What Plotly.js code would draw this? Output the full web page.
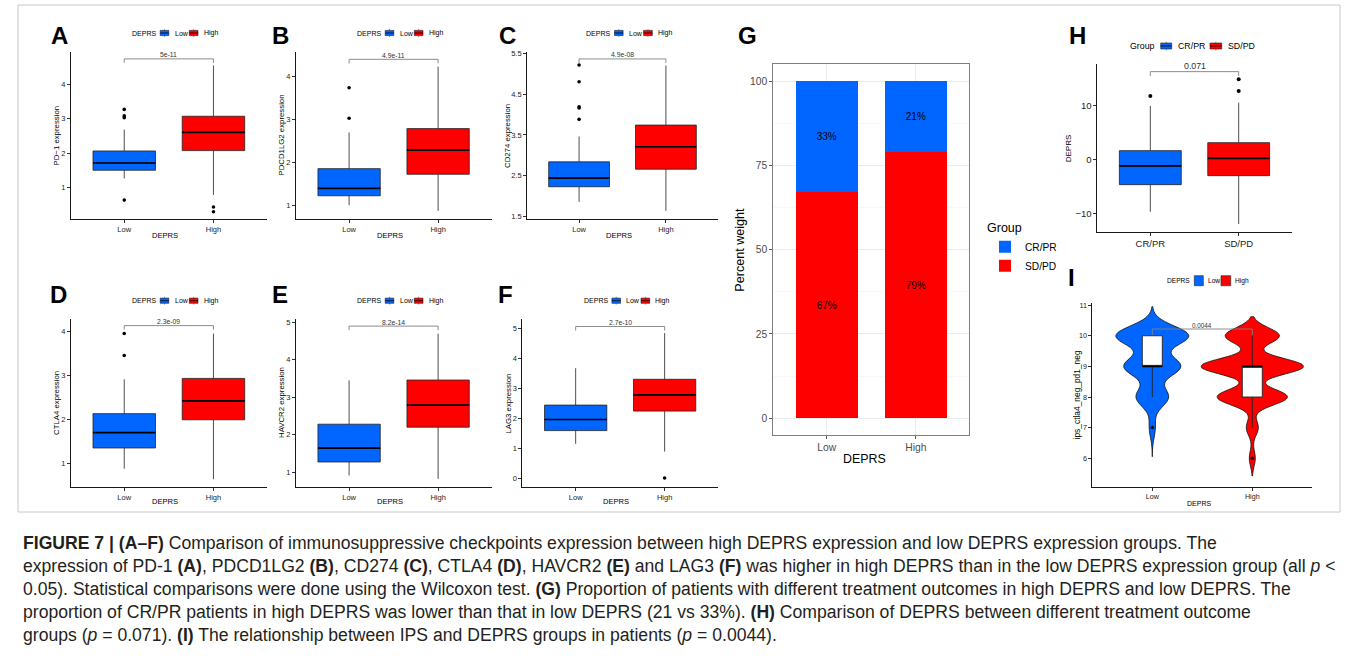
<!DOCTYPE html>
<html><head><meta charset="utf-8">
<script src="https://cdn.plot.ly/plotly-3.0.1.min.js"></script>
<style>html,body{margin:0;padding:0;background:#fff;}#chart{width:1355px;height:670px;}</style>
</head><body><div id="chart"></div>
<script>
// ================= DATA =================
const deprsGroups = ['Low', 'High'];
const outcomeGroups = ['CR/PR', 'SD/PD'];

// A: PD-1 (box statistics per group: Low, High)
const pd1Q1 = [1.50, 2.07];
const pd1Median = [1.71, 2.60];
const pd1Q3 = [2.06, 3.07];
const pd1Lower = [1.26, 0.78];
const pd1Upper = [2.68, 4.55];
const pd1OutLow = [3.27, 3.08, 3.03, 0.63];
const pd1OutHigh = [0.43, 0.29];

// B: PDCD1LG2
const pdcdQ1 = [1.22, 1.72];
const pdcdMedian = [1.39, 2.28];
const pdcdQ3 = [1.85, 2.78];
const pdcdLower = [1.00, 0.87];
const pdcdUpper = [2.69, 4.22];
const pdcdOutLow = [3.73, 3.02];
const pdcdOutHigh = [];

// C: CD274
const cd274Q1 = [2.23, 2.66];
const cd274Median = [2.44, 3.21];
const cd274Q3 = [2.84, 3.74];
const cd274Lower = [1.86, 1.64];
const cd274Upper = [3.46, 5.20];
const cd274OutLow = [3.88, 4.16, 4.19, 4.80, 5.21];
const cd274OutHigh = [];

// D: CTLA4
const ctla4Q1 = [1.35, 1.99];
const ctla4Median = [1.70, 2.42];
const ctla4Q3 = [2.13, 2.93];
const ctla4Lower = [0.88, 0.64];
const ctla4Upper = [2.91, 3.95];
const ctla4OutLow = [3.45, 3.95];
const ctla4OutHigh = [];

// E: HAVCR2
const havcr2Q1 = [1.27, 2.20];
const havcr2Median = [1.64, 2.79];
const havcr2Q3 = [2.28, 3.46];
const havcr2Lower = [0.91, 0.82];
const havcr2Upper = [3.45, 4.70];
const havcr2OutLow = [];
const havcr2OutHigh = [];

// F: LAG3
const lag3Q1 = [1.60, 2.25];
const lag3Median = [1.97, 2.79];
const lag3Q3 = [2.45, 3.31];
const lag3Lower = [1.16, 0.90];
const lag3Upper = [3.68, 4.85];
const lag3OutLow = [];
const lag3OutHigh = [0.02];

// G: percent of outcome groups per DEPRS group
const crprPct = [33, 21];
const sdpdPct = [67, 79];

// H: DEPRS by outcome group (CR/PR, SD/PD)
const hQ1 = [-4.60, -2.95];
const hMedian = [-1.16, 0.25];
const hQ3 = [1.66, 3.13];
const hLower = [-9.58, -11.84];
const hUpper = [9.90, 10.50];
const hOutCR = [11.70];
const hOutSD = [12.65, 14.80];

// I: IPS (ips_ctla4_neg_pd1_neg) score counts per level
const ipsLevels = [6, 7, 8, 9, 10];
const ipsCountLow = [0, 3, 16, 28, 36];
const ipsCountHigh = [3, 6, 35, 51, 27];

// p values and bracket heights (A..F, H, I)
const pLabels = ['5e-11', '4.9e-11', '4.9e-08', '2.3e-09', '8.2e-14', '2.7e-10', '0.071', '0.0044'];
const bracketY = [4.74, 4.39, 5.36, 4.13, 4.90, 5.07, 16.2, 10.22];

// ================= BUILD =================
const W = 1355, H = 670;
const px = v => v / W;
const py = v => 1 - v / H;
const BLUE = '#0066FF', RED = '#FF0000';
const FONT = '"Liberation Sans", Arial, sans-serif';
const traces = [], annotations = [], shapes = [];
const layout = {
  width: W, height: H, margin: {l: 0, r: 0, t: 0, b: 0},
  paper_bgcolor: '#fff', plot_bgcolor: 'rgba(0,0,0,0)',
  font: {family: FONT, color: '#000'},
  boxmode: 'overlay', violinmode: 'overlay', barmode: 'stack',
  showlegend: true
};
function keys(i) { return i === 1 ? ['x', 'y', 'xaxis', 'yaxis'] : ['x' + i, 'y' + i, 'xaxis' + i, 'yaxis' + i]; }

function pubrAxes(i, g, cats) {
  const [xa, ya, xk, yk] = keys(i);
  const common = {showline: true, linecolor: '#000', linewidth: 0.9, ticks: 'outside', ticklen: 3,
    tickcolor: '#000', tickwidth: 0.8, showgrid: false, zeroline: false, fixedrange: true, type: 'linear',
    tickfont: {size: g.tf, color: '#222', family: FONT}};
  layout[xk] = Object.assign({}, common, {domain: [px(g.xd[0]), px(g.xd[1])], range: [0.4, 2.6], anchor: ya,
    tickmode: 'array', tickvals: [1, 2], ticktext: cats});
  layout[yk] = Object.assign({}, common, {domain: [py(g.yd[1]), py(g.yd[0])], range: g.yr, anchor: xa,
    tick0: g.t0, dtick: g.dt});
}
function boxGroup(i, pos, q1, med, q3, lo, hi, color, width, lineW) {
  const [xa, ya] = keys(i);
  traces.push({type: 'box', x: [pos], q1: [q1], median: [med], q3: [q3], lowerfence: [lo], upperfence: [hi],
    width: width, fillcolor: color, line: {color: '#222', width: lineW || 0.8}, whiskerwidth: 0,
    boxpoints: false, xaxis: xa, yaxis: ya, showlegend: false, hoverinfo: 'skip'});
  traces.push({type: 'scatter', mode: 'lines', x: [pos - width / 2, pos + width / 2], y: [med, med],
    line: {color: '#000', width: 1.7}, xaxis: xa, yaxis: ya, showlegend: false, hoverinfo: 'skip'});
}
function outliers(i, pos, vals, size) {
  if (!vals.length) return;
  const [xa, ya] = keys(i);
  traces.push({type: 'scatter', mode: 'markers', x: vals.map(() => pos), y: vals,
    marker: {color: '#000', size: size || 3.6}, xaxis: xa, yaxis: ya, showlegend: false, hoverinfo: 'skip'});
}
function bracket(i, yb, tip, label, fs) {
  const [xa, ya] = keys(i);
  traces.push({type: 'scatter', mode: 'lines', x: [1, 1, 2, 2], y: [yb - tip, yb, yb, yb - tip],
    line: {color: '#808080', width: 0.9}, xaxis: xa, yaxis: ya, showlegend: false, hoverinfo: 'skip'});
  annotations.push({xref: xa, yref: ya, x: 1.5, y: yb, text: label, showarrow: false, yanchor: 'bottom',
    yshift: -1.5, font: {size: fs, color: '#333', family: FONT}});
}
function text(x, y, t, fs, opts) {
  annotations.push(Object.assign({xref: 'paper', yref: 'paper', x: px(x), y: py(y), text: t, showarrow: false,
    xanchor: 'center', yanchor: 'middle', font: {size: fs, color: '#000', family: FONT}}, opts || {}));
}
function rect(x0, y0, x1, y1, fill, lc, lw) {
  shapes.push({type: 'rect', xref: 'paper', yref: 'paper', x0: px(x0), x1: px(x1), y0: py(y1), y1: py(y0),
    fillcolor: fill, line: {color: lc, width: lw}, layer: 'above'});
}
function seg(x0, y0, x1, y1, lc, lw) {
  shapes.push({type: 'line', xref: 'paper', yref: 'paper', x0: px(x0), x1: px(x1), y0: py(y0), y1: py(y1),
    line: {color: lc, width: lw}, layer: 'above'});
}
// small ggpubr-style legend
function miniLegend(o) {
  text(o.x0, o.y, o.title, o.fs, {xanchor: 'left'});
  o.labels.forEach((lab, k) => {
    const [a, b] = o.keys[k];
    const c = (a + b) / 2;
    rect(a, o.y - o.bh, b, o.y + o.bh, o.colors[k], '#222', 0.6);
    if (o.box) {
      seg(a, o.y, b, o.y, '#000', 0.8);
      seg(c, o.y - o.bh - o.stub, c, o.y - o.bh, '#333', 0.6);
      seg(c, o.y + o.bh, c, o.y + o.bh + o.stub, '#333', 0.6);
    }
    text(o.lx[k], o.y, lab, o.fs, {xanchor: 'left'});
  });
}

// ---- Panels A-F ----
const boxPanels = [
  {q1: pd1Q1, med: pd1Median, q3: pd1Q3, lo: pd1Lower, hi: pd1Upper, out: [pd1OutLow, pd1OutHigh], ytitle: 'PD\u22121 expression'},
  {q1: pdcdQ1, med: pdcdMedian, q3: pdcdQ3, lo: pdcdLower, hi: pdcdUpper, out: [pdcdOutLow, pdcdOutHigh], ytitle: 'PDCD1LG2 expression'},
  {q1: cd274Q1, med: cd274Median, q3: cd274Q3, lo: cd274Lower, hi: cd274Upper, out: [cd274OutLow, cd274OutHigh], ytitle: 'CD274 expression'},
  {q1: ctla4Q1, med: ctla4Median, q3: ctla4Q3, lo: ctla4Lower, hi: ctla4Upper, out: [ctla4OutLow, ctla4OutHigh], ytitle: 'CTLA4 expression'},
  {q1: havcr2Q1, med: havcr2Median, q3: havcr2Q3, lo: havcr2Lower, hi: havcr2Upper, out: [havcr2OutLow, havcr2OutHigh], ytitle: 'HAVCR2 expression'},
  {q1: lag3Q1, med: lag3Median, q3: lag3Q3, lo: lag3Lower, hi: lag3Upper, out: [lag3OutLow, lag3OutHigh], ytitle: 'LAG3 expression'}
];
const geo = [
  {xd: [70.7, 267], yd: [52, 219], yr: [0.08, 4.94], t0: 1, dt: 1, tf: 7.5, letter: ['A', 60, 35], leg: 130, legY: 33, yt: [56, 135.5], xt: [165, 236]},
  {xd: [295.7, 491.5], yd: [52, 219], yr: [0.68, 4.56], t0: 1, dt: 1, tf: 7.5, letter: ['B', 280, 35], leg: 355, legY: 33, yt: [281, 135.5], xt: [390, 236]},
  {xd: [527, 718], yd: [52, 219], yr: [1.44, 5.53], t0: 1.5, dt: 1, tf: 7.5, letter: ['C', 508, 35], leg: 584.3, legY: 33, yt: [507.5, 135.5], xt: [619.3, 236]},
  {xd: [70.7, 267], yd: [319, 486.7], yr: [0.47, 4.28], t0: 1, dt: 1, tf: 7.5, letter: ['D', 58, 294.5], leg: 130, legY: 300.7, yt: [56, 403], xt: [165, 501.7]},
  {xd: [295.7, 491.5], yd: [319, 486.7], yr: [0.61, 5.09], t0: 1, dt: 1, tf: 7.5, letter: ['E', 280, 294.5], leg: 355, legY: 300.7, yt: [281, 403], xt: [390, 501.7]},
  {xd: [522.3, 718], yd: [319, 486.7], yr: [-0.27, 5.32], t0: 0, dt: 1, tf: 7.5, letter: ['F', 505, 294.5], leg: 581.7, legY: 300.7, yt: [507.5, 403], xt: [616, 501.7]}
];
const groupColors = [BLUE, RED];
boxPanels.forEach((p, k) => {
  const i = k + 1, g = geo[k];
  pubrAxes(i, g, deprsGroups);
  deprsGroups.forEach((_, j) => {
    boxGroup(i, j + 1, p.q1[j], p.med[j], p.q3[j], p.lo[j], p.hi[j], groupColors[j], 0.7);
    outliers(i, j + 1, p.out[j]);
  });
  bracket(i, bracketY[k], 0.024 * (g.yr[1] - g.yr[0]), pLabels[k], 6.8);
  text(g.letter[1], g.letter[2], '<b>' + g.letter[0] + '</b>', 24);
  text(g.yt[0], g.yt[1], p.ytitle, 7.8, {textangle: -90});
  text(g.xt[0], g.xt[1], 'DEPRS', 7.6);
  const x0 = g.leg;
  miniLegend({x0: x0, y: g.legY, title: 'DEPRS', labels: deprsGroups, colors: groupColors, fs: 7, box: true,
    keys: [[x0 + 30.2, x0 + 38.8], [x0 + 59.3, x0 + 68]], lx: [x0 + 42.5, x0 + 71.5], bh: 2.6, stub: 1.2});
});

// ---- Panel G: stacked bars ----
(function () {
  const i = 7, [xa, ya, xk, yk] = keys(i);
  const common = {showline: true, mirror: true, linecolor: '#7F7F7F', linewidth: 1, ticks: 'outside', ticklen: 3,
    tickcolor: '#333', tickwidth: 0.8, zeroline: false, fixedrange: true, showgrid: true, gridcolor: '#EBEBEB',
    gridwidth: 1, type: 'linear', tickfont: {size: 10.3, color: '#4D4D4D', family: FONT}};
  layout[xk] = Object.assign({}, common, {domain: [px(773.3), px(969.3)], range: [0.4, 2.6], anchor: ya,
    tickmode: 'array', tickvals: [1, 2], ticktext: deprsGroups});
  layout[yk] = Object.assign({}, common, {domain: [py(435), py(64.3)], range: [-5, 105], anchor: xa,
    tickmode: 'array', tickvals: [0, 25, 50, 75, 100],
    minor: {tickmode: 'array', tickvals: [12.5, 37.5, 62.5, 87.5], showgrid: true, gridcolor: '#F4F4F4', gridwidth: 0.6, ticks: ''}});
  const xs = deprsGroups.map((_, j) => j + 1);
  traces.push({type: 'bar', x: xs, y: sdpdPct, width: 0.7, name: outcomeGroups[1], marker: {color: RED, line: {width: 0}},
    text: sdpdPct.map(v => v + '%'), textposition: 'inside', insidetextanchor: 'middle', textangle: 0,
    textfont: {size: 10, color: '#000', family: FONT}, xaxis: xa, yaxis: ya, hoverinfo: 'skip', legend: 'legend'});
  traces.push({type: 'bar', x: xs, y: crprPct, width: 0.7, name: outcomeGroups[0], marker: {color: BLUE, line: {width: 0}},
    text: crprPct.map(v => v + '%'), textposition: 'inside', insidetextanchor: 'middle', textangle: 0,
    textfont: {size: 10, color: '#000', family: FONT}, xaxis: xa, yaxis: ya, hoverinfo: 'skip', legend: 'legend'});
  layout.legend = {x: px(985), y: py(216), xanchor: 'left', yanchor: 'top', traceorder: 'reversed',
    title: {text: 'Group', font: {size: 12.5, color: '#000', family: FONT}}, font: {size: 10.2, color: '#000', family: FONT},
    itemwidth: 30, tracegroupgap: 0, bgcolor: 'rgba(0,0,0,0)'};
  text(747, 35, '<b>G</b>', 24);
  text(740, 249.7, 'Percent weight', 12.6, {textangle: -90});
  text(864.5, 459, 'DEPRS', 12.4);
})();

// ---- Panel H ----
(function () {
  const i = 8;
  const g = {xd: [1097.3, 1291.7], yd: [64.3, 231.7], yr: [-13.26, 17.55], t0: 0, dt: 10, tf: 9.5};
  pubrAxes(i, g, outcomeGroups);
  const outs = [hOutCR, hOutSD];
  outcomeGroups.forEach((_, j) => {
    boxGroup(i, j + 1, hQ1[j], hMedian[j], hQ3[j], hLower[j], hUpper[j], groupColors[j], 0.7);
    outliers(i, j + 1, outs[j], 4);
  });
  bracket(i, bracketY[6], 0.026 * (g.yr[1] - g.yr[0]), pLabels[6], 8.8);
  text(1077, 35, '<b>H</b>', 24);
  text(1068.3, 148, 'DEPRS', 8, {textangle: -90});
  miniLegend({x0: 1128.3, y: 46, title: 'Group', labels: outcomeGroups, colors: groupColors, fs: 8.8, box: true,
    keys: [[1160.7, 1171.7], [1210, 1221.7]], lx: [1175.5, 1225.5], bh: 3, stub: 1.3});
})();

// ---- Panel I: violins with inner boxes ----
function expand(levels, counts) {
  const out = [];
  levels.forEach((v, k) => { for (let n = 0; n < counts[k]; n++) out.push(v); });
  return out;
}
function quant(s, p) {
  const h = (s.length - 1) * p, lo = Math.floor(h), hi = Math.min(lo + 1, s.length - 1);
  return s[lo] + (h - lo) * (s[hi] - s[lo]);
}
function boxStats(vals) {
  const s = vals.slice().sort((a, b) => a - b);
  const q1 = quant(s, 0.25), med = quant(s, 0.5), q3 = quant(s, 0.75), iqr = q3 - q1;
  const inside = s.filter(v => v >= q1 - 1.5 * iqr && v <= q3 + 1.5 * iqr);
  const outs = Array.from(new Set(s.filter(v => v < q1 - 1.5 * iqr || v > q3 + 1.5 * iqr)));
  return {q1, med, q3, lo: inside[0], hi: inside[inside.length - 1], outs};
}
(function () {
  const i = 9, [xa, ya] = keys(i);
  const g = {xd: [1092.3, 1312.3], yd: [302.7, 486.7], yr: [5.07, 11.08], t0: 6, dt: 1, tf: 7.2};
  pubrAxes(i, g, deprsGroups);
  const samples = [expand(ipsLevels, ipsCountLow), expand(ipsLevels, ipsCountHigh)];
  const vstyle = [{bw: 0.32, width: 0.73, span: [6.05, 10.95]}, {bw: 0.26, width: 1.02, span: [5.42, 10.62]}];
  samples.forEach((vals, j) => {
    traces.push({type: 'violin', x0: j + 1, y: vals, xaxis: xa, yaxis: ya, bandwidth: vstyle[j].bw,
      spanmode: 'manual', span: vstyle[j].span, width: vstyle[j].width, scalemode: 'width', side: 'both',
      points: false, box: {visible: false}, meanline: {visible: false}, fillcolor: groupColors[j],
      line: {color: '#111', width: 0.8}, showlegend: false, hoverinfo: 'skip', hoveron: 'violins'});
  });
  samples.forEach((vals, j) => {
    const st = boxStats(vals);
    boxGroup(i, j + 1, st.q1, st.med, st.q3, st.lo, st.hi, '#FFFFFF', 0.2, 0.9);
    outliers(i, j + 1, st.outs, 3.6);
  });
  bracket(i, bracketY[7], 0.033 * (g.yr[1] - g.yr[0]), pLabels[7], 6.3);
  text(1071.5, 277, '<b>I</b>', 24);
  text(1076.7, 394.7, 'ips_ctla4_neg_pd1_neg', 8.4, {textangle: -90});
  text(1199, 503.3, 'DEPRS', 7);
  miniLegend({x0: 1165, y: 280.7, title: 'DEPRS', labels: deprsGroups, colors: groupColors, fs: 6.6, box: false,
    keys: [[1194.3, 1203.3], [1221, 1230.7]], lx: [1205.5, 1232.8], bh: 5});
})();

// ---- Figure frame ----
shapes.push({type: 'rect', xref: 'paper', yref: 'paper', x0: px(18), x1: px(1340), y0: py(512), y1: py(5),
  line: {color: '#C8C8C8', width: 1}, fillcolor: 'rgba(0,0,0,0)', layer: 'below'});

// ---- Caption ----
const captionLines = [
  '<b>FIGURE 7 | (A\u2013F)</b> Comparison of immunosuppressive checkpoints expression between high DEPRS expression and low DEPRS expression groups. The',
  'expression of PD-1 <b>(A)</b>, PDCD1LG2 <b>(B)</b>, CD274 <b>(C)</b>, CTLA4 <b>(D)</b>, HAVCR2 <b>(E)</b> and LAG3 <b>(F)</b> was higher in high DEPRS than in the low DEPRS expression group (all <i>p</i> &lt;',
  '0.05). Statistical comparisons were done using the Wilcoxon test. <b>(G)</b> Proportion of patients with different treatment outcomes in high DEPRS and low DEPRS. The',
  'proportion of CR/PR patients in high DEPRS was lower than that in low DEPRS (21 vs 33%). <b>(H)</b> Comparison of DEPRS between different treatment outcome',
  'groups (<i>p</i> = 0.071). <b>(I)</b> The relationship between IPS and DEPRS groups in patients (<i>p</i> = 0.0044).'
];
captionLines.forEach((t, k) => {
  annotations.push({xref: 'paper', yref: 'paper', x: px(21), y: py(543 + 23 * k), text: t, showarrow: false,
    xanchor: 'left', yanchor: 'middle', align: 'left',
    font: {size: 17.6, color: '#231F20', family: FONT}});
});

layout.annotations = annotations;
layout.shapes = shapes;
Plotly.newPlot('chart', traces, layout, {staticPlot: true, displayModeBar: false});
</script></body></html>
